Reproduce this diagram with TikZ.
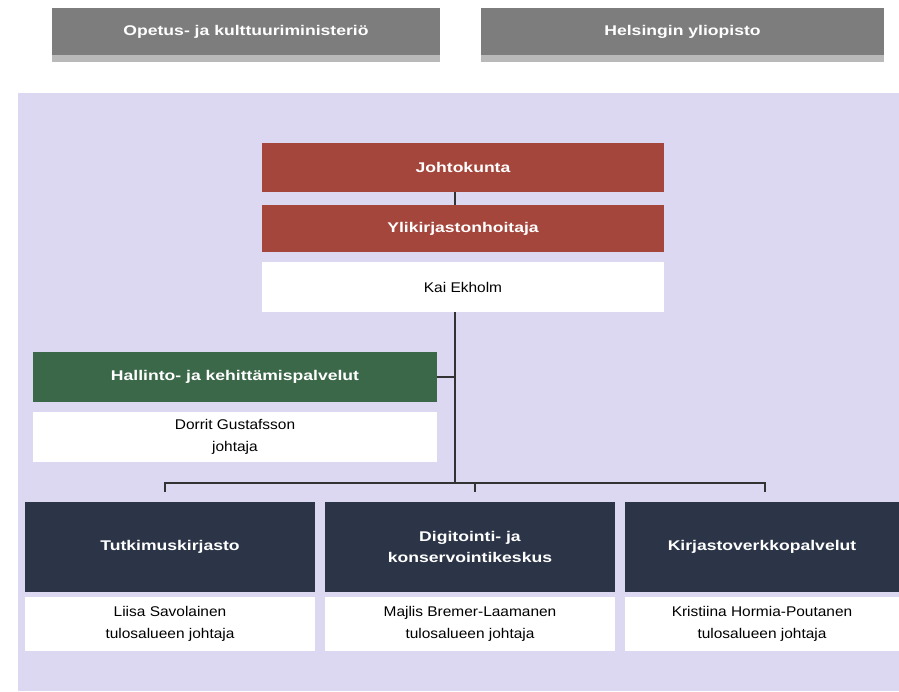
\documentclass[tikz,border=0pt]{standalone}
\usepackage{fontspec}
\setmainfont{Liberation Sans}[FakeStretch=1.1]
\newfontfamily\labelfont{Liberation Sans}[FakeStretch=1.25]
\usetikzlibrary{positioning}

\definecolor{ministrygray}{RGB}{125,125,125}
\definecolor{stripegray}{RGB}{185,185,185}
\definecolor{lavender}{RGB}{221,216,241}
\definecolor{boardred}{RGB}{165,70,60}
\definecolor{admingreen}{RGB}{58,104,72}
\definecolor{unitnavy}{RGB}{44,53,72}

\begin{document}
\begin{tikzpicture}[x=0.03cm, y=-0.03cm,
	every node/.style={inner sep=0pt, outer sep=0pt, align=center, font=\fontsize{12}{19}\selectfont},
	topbox/.style={fill=ministrygray, text=white, font=\fontsize{12}{14}\selectfont\labelfont\bfseries, minimum height=1.41cm},
	headbox/.style={fill=boardred, text=white, font=\fontsize{12}{14}\selectfont\labelfont\bfseries, minimum width=12.06cm},
	adminbox/.style={fill=admingreen, text=white, font=\fontsize{12}{14}\selectfont\labelfont\bfseries, minimum width=12.12cm, minimum height=1.5cm},
	unitbox/.style={fill=unitnavy, text=white, font=\fontsize{12}{18}\selectfont\labelfont\bfseries, minimum width=8.7cm, minimum height=2.7cm},
	namebox/.style={fill=white, text=black},
	orgline/.style={draw=black!80, line width=1pt}]
	\useasboundingbox (0,0) rectangle (899,691);
	% owners
	\fill[stripegray] (52,55) rectangle (440,62);
	\fill[stripegray] (481,55) rectangle (884,62);
	\node[topbox, minimum width=11.64cm] (ministry) at (246,31.5) {Opetus- ja kulttuuriministeriö};
	\node[topbox, minimum width=12.09cm] (university) at (682.5,31.5) {Helsingin yliopisto};
	% library
	\fill[lavender] (18,93) rectangle (899,691);
	\node[headbox, minimum height=1.47cm] (board) at (463,167.5) {Johtokunta};
	\node[headbox, minimum height=1.41cm] (chief) at (463,228.5) {Ylikirjastonhoitaja};
	\node[namebox, minimum width=12.06cm, minimum height=1.5cm] (chiefname) at (463,287) {Kai Ekholm};
	\node[adminbox] (admin) at (235,377) {Hallinto- ja kehittämispalvelut};
	\node[namebox, minimum width=12.12cm, minimum height=1.5cm] (adminname) at (235,437) {Dorrit Gustafsson\\johtaja};
	\node[unitbox] (research) at (170,547) {Tutkimuskirjasto};
	\node[unitbox] (digi) at (470,547) {Digitointi- ja\\konservointikeskus};
	\node[unitbox, minimum width=8.22cm] (network) at (762,547) {Kirjastoverkkopalvelut};
	\node[namebox, minimum width=8.7cm, minimum height=1.62cm] (researchname) at (170,624) {Liisa Savolainen\\tulosalueen johtaja};
	\node[namebox, minimum width=8.7cm, minimum height=1.62cm] (diginame) at (470,624) {Majlis Bremer-Laamanen\\tulosalueen johtaja};
	\node[namebox, minimum width=8.22cm, minimum height=1.62cm] (networkname) at (762,624) {Kristiina Hormia-Poutanen\\tulosalueen johtaja};
	% connectors
	\coordinate (boardfoot) at (455,192);
	\coordinate (chiefhead) at (455,205);
	\coordinate (trunktop) at (455,312);
	\coordinate (adminjoin) at (455,377);
	\coordinate (trunk) at (455,483);
	\coordinate (barleft) at (165,483);
	\coordinate (barmid) at (475,483);
	\coordinate (barright) at (765,483);
	\draw[orgline] (boardfoot) -- (chiefhead);
	\draw[orgline] (trunktop) -- (trunk);
	\draw[orgline] (admin.east) -- (adminjoin);
	\draw[orgline] (barleft) ++(0,9) -- (barleft) -- (barright) -- ++(0,9);
	\draw[orgline] (barmid) -- ++(0,9);
\end{tikzpicture}
\end{document}
